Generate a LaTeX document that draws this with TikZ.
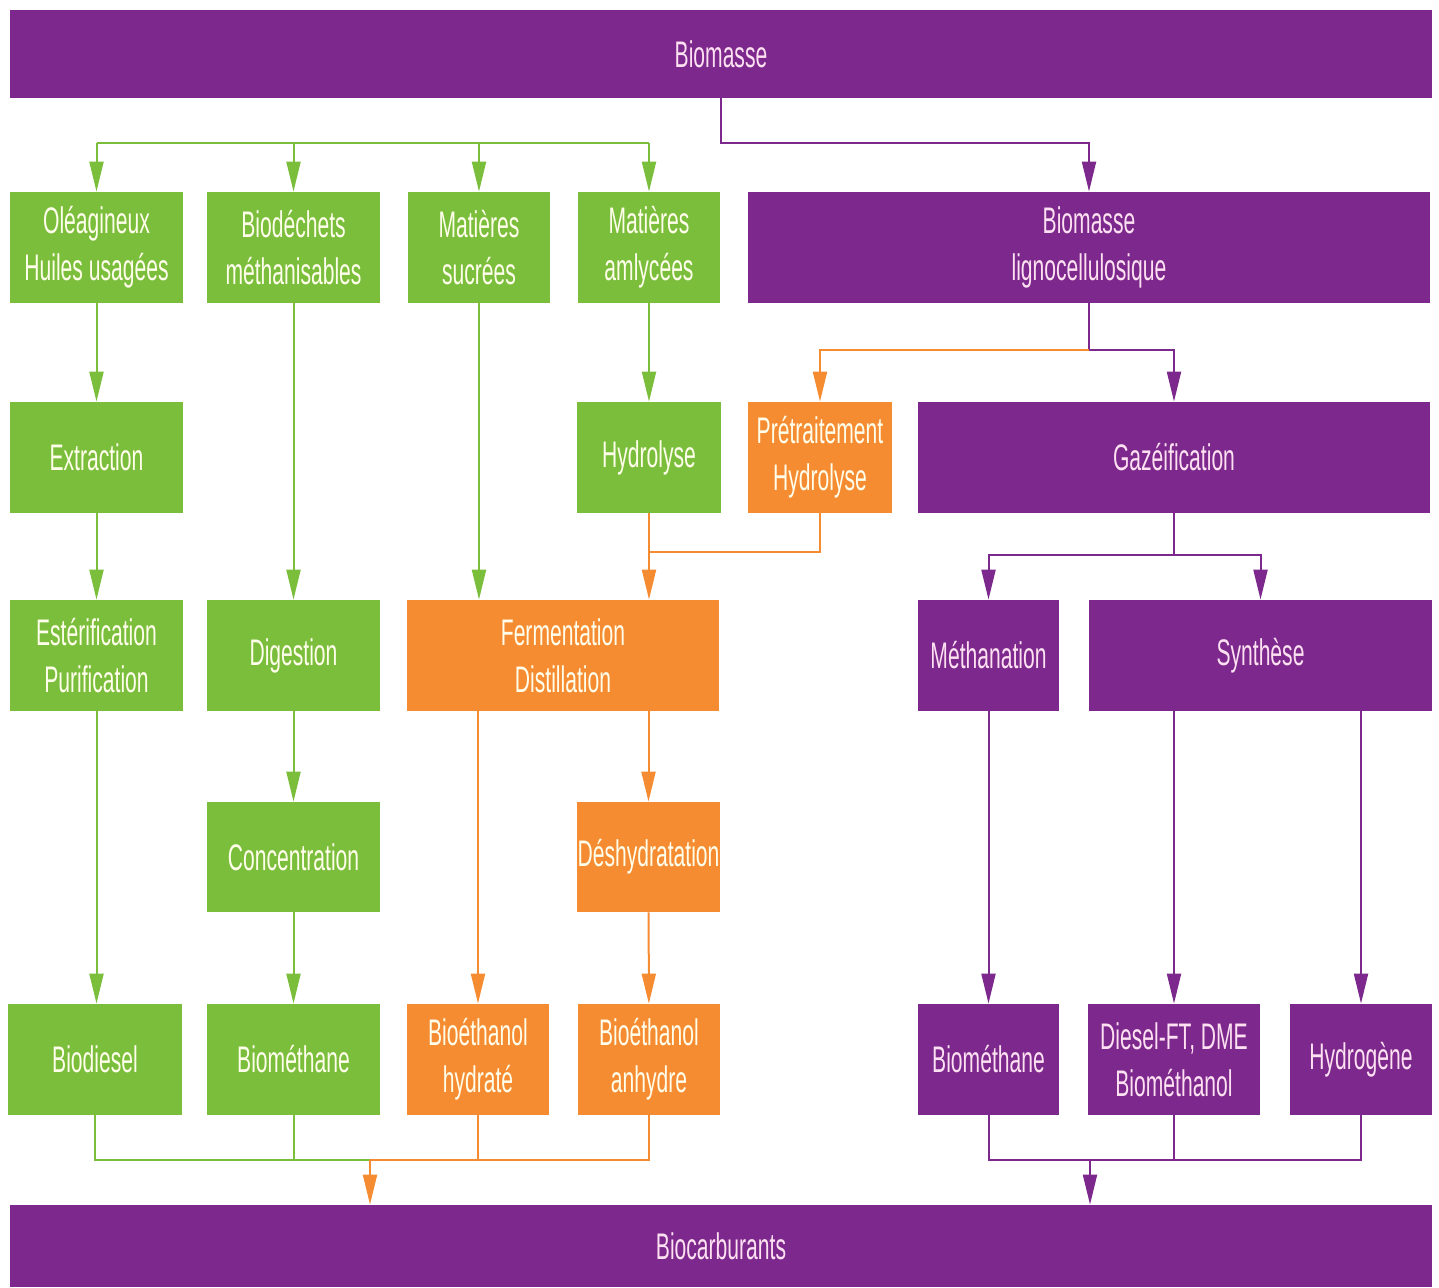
\documentclass[tikz,border=0pt]{standalone}
\usepackage{fontspec}
\setmainfont{Liberation Sans}[FakeStretch=0.57]
\usetikzlibrary{arrows.meta, calc}

\definecolor{bioviolet}{RGB}{125,40,140}
\definecolor{biogreen}{RGB}{122,190,60}
\definecolor{bioorange}{RGB}{245,140,50}

\begin{document}
\begin{tikzpicture}[x=0.5pt, y=-0.5pt,
  box/.style = {inner sep=0, align=center, minimum height=55.5pt, font=\fontsize{18.5}{23.5}\selectfont},
  gbox/.style = {box, fill=biogreen, text=white!92!yellow},
  obox/.style = {box, fill=bioorange, text=white!92!yellow},
  pbox/.style = {box, fill=bioviolet, text=white!88!magenta},
  gline/.style = {draw=biogreen, line width=1pt},
  oline/.style = {draw=bioorange, line width=1pt},
  pline/.style = {draw=bioviolet, line width=1pt},
  tip/.style = {-{Triangle[length=15pt, width=7pt]}},
  garrow/.style = {gline, tip, biogreen},
  oarrow/.style = {oline, tip, bioorange},
  parrow/.style = {pline, tip, bioviolet}]
\useasboundingbox (0,0) rectangle (1439,1287);

% top and bottom bands
\node[pbox, minimum width=711pt, minimum height=44pt] (bio) at (721,54) {Biomasse};
\node[pbox, minimum width=711pt, minimum height=41pt] (carb) at (721,1246) {Biocarburants};

% first row
\node[gbox, minimum width=86.5pt] (ole) at (96.5,247.5) {Oléagineux\\Huiles usagées};
\node[gbox, minimum width=86.5pt] (bdc) at (293.5,247.5) {Biodéchets\\méthanisables};
\node[gbox, minimum width=71pt] (sucr) at (479,247.5) {Matières\\sucrées};
\node[gbox, minimum width=71pt] (amyl) at (649,247.5) {Matières\\amlycées};
\node[pbox, minimum width=341pt] (ligno) at (1089,247.5) {Biomasse\\lignocellulosique};

% second row
\node[gbox, minimum width=86.5pt] (extr) at (96.5,457.5) {Extraction};
\node[gbox, minimum width=72pt] (hydr) at (649,457.5) {Hydrolyse};
\node[obox, minimum width=72pt] (pret) at (820,457.5) {Prétraitement\\Hydrolyse};
\node[pbox, minimum width=256pt] (gaz) at (1174,457.5) {Gazéification};

% third row
\node[gbox, minimum width=86.5pt] (ester) at (96.5,655.5) {Estérification\\Purification};
\node[gbox, minimum width=86.5pt] (dig) at (293.5,655.5) {Digestion};
\node[obox, minimum width=156pt] (ferm) at (563,655.5) {Fermentation\\Distillation};
\node[pbox, minimum width=70.5pt] (meth) at (988.5,655.5) {Méthanation};
\node[pbox, minimum width=171.5pt] (synth) at (1260.5,655.5) {Synthèse};

% fourth row
\node[gbox, minimum width=86.5pt, minimum height=55pt] (conc) at (293.5,857) {Concentration};
\node[obox, minimum width=71.5pt, minimum height=55pt] (desh) at (648.5,857) {Déshydratation};

% products
\node[gbox, minimum width=87pt] (diesel) at (95,1059.5) {Biodiesel};
\node[gbox, minimum width=86.5pt] (bmeth) at (293.5,1059.5) {Biométhane};
\node[obox, minimum width=71pt] (bhyd) at (478,1059.5) {Bioéthanol\\hydraté};
\node[obox, minimum width=71pt] (banh) at (649,1059.5) {Bioéthanol\\anhydre};
\node[pbox, minimum width=70.5pt] (bmeth2) at (988.5,1059.5) {Biométhane};
\node[pbox, minimum width=86pt] (dft) at (1174,1059.5) {Diesel-FT, DME\\Biométhanol};
\node[pbox, minimum width=71pt] (hydro) at (1361,1059.5) {Hydrogène};

% junction points
\coordinate (jtop) at (0,143);
\coordinate (jlig) at (0,350);
\coordinate (jhyd) at (0,552);
\coordinate (jgaz) at (0,555);
\coordinate (jbot) at (0,1160);
\coordinate (gsink) at (370,1160);
\coordinate (psink) at (1090,1160);

% from Biomasse
\draw[parrow] (bio.south) |- (ligno.north |- jtop) -- (ligno.north);
\draw[gline] (ole.north |- jtop) -- (amyl.north |- jtop);
\foreach \n in {ole,bdc,sucr,amyl}
  \draw[garrow] (\n.north |- jtop) -- (\n.north);

% green chains
\draw[garrow] (ole) -- (extr);
\draw[garrow] (extr) -- (ester);
\draw[garrow] (ester) -- (diesel.north -| ester);
\draw[garrow] (bdc) -- (dig);
\draw[garrow] (dig) -- (conc);
\draw[garrow] (conc) -- (bmeth);
\draw[garrow] (sucr) -- (ferm.north -| sucr);
\draw[garrow] (amyl) -- (hydr);

% lignocellulosic split
\draw[pline] (ligno.south) -- (ligno.south |- jlig);
\draw[oarrow] (ligno.south |- jlig) -| (pret.north);
\draw[parrow] (ligno.south |- jlig) -| (gaz.north);

% orange chains
\draw[oarrow] (hydr) -- (ferm.north -| hydr);
\draw[oline] (pret.south) |- (hydr.south |- jhyd);
\draw[oarrow] (ferm.south -| bhyd) -- (bhyd);
\draw[oarrow] (ferm.south -| desh) -- (desh);
\draw[oarrow] (desh) -- (banh);

% gasification branch
\draw[pline] (gaz.south) -- (gaz.south |- jgaz);
\draw[parrow] (gaz.south |- jgaz) -| (meth.north);
\draw[parrow] (gaz.south |- jgaz) -| (synth.north);
\draw[parrow] (meth) -- (bmeth2);
\draw[parrow] (synth.south -| dft) -- (dft);
\draw[parrow] (synth.south -| hydro) -- (hydro);

% collecting lines
\draw[gline] (diesel.south) |- (gsink);
\draw[gline] (bmeth.south) -- (bmeth.south |- jbot);
\draw[oline] (bhyd.south) -- (bhyd.south |- jbot);
\draw[oline] (banh.south) |- (gsink);
\draw[oarrow] (gsink) -- (carb.north -| gsink);
\draw[pline] (bmeth2.south) |- (jbot -| hydro.south) -- (hydro.south);
\draw[pline] (dft.south) -- (dft.south |- jbot);
\draw[parrow] (psink) -- (carb.north -| psink);
\end{tikzpicture}
\end{document}
